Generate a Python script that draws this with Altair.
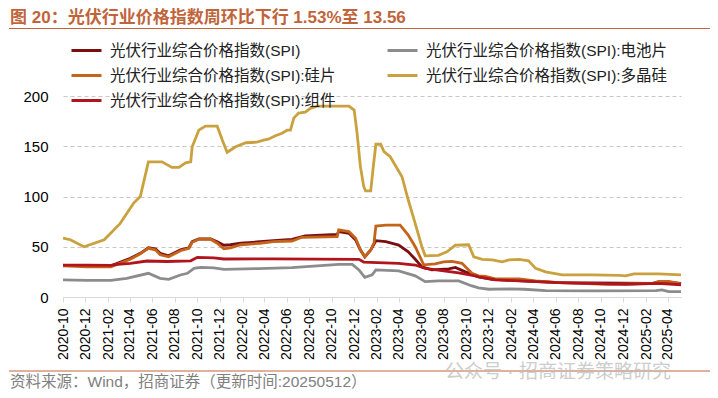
import altair as alt
import pandas as pd

# ---- series names (legend order) ----
series_names = [
    "光伏行业综合价格指数(SPI)",
    "光伏行业综合价格指数(SPI):电池片",
    "光伏行业综合价格指数(SPI):硅片",
    "光伏行业综合价格指数(SPI):多晶硅",
    "光伏行业综合价格指数(SPI):组件",
]
series_colors = ["#7A0F12", "#8C8C8C", "#C4641B", "#C9A23F", "#B0141C"]

# ---- SPI ----
spi_dates = ["2020-10-01", "2020-12-06", "2021-02-08", "2021-04-02", "2021-04-29", "2021-05-21",
             "2021-06-09", "2021-06-22", "2021-07-15", "2021-08-16", "2021-09-08", "2021-09-17",
             "2021-10-05", "2021-11-06", "2021-11-24", "2021-12-12", "2021-12-30", "2022-01-27",
             "2022-03-20", "2022-04-26", "2022-06-15", "2022-07-21", "2022-10-16", "2022-10-20",
             "2022-11-17", "2022-12-05", "2022-12-18", "2022-12-30", "2023-01-15", "2023-01-29",
             "2023-02-25", "2023-04-01", "2023-04-27", "2023-05-16", "2023-06-03", "2023-06-30",
             "2023-08-15", "2023-09-02", "2023-09-29", "2023-11-04", "2023-12-11", "2024-06-09",
             "2025-02-19", "2025-03-07", "2025-04-04", "2025-05-07"]
spi_vals = [31.5, 31, 31, 38.5, 43.5, 49,
            48, 43.5, 41, 47, 49, 55,
            57.7, 57.7, 55, 51.5, 52, 53.5,
            55, 56, 57.4, 60.7, 62.4, 65,
            63.4, 56.7, 46.8, 40, 46.8, 56,
            55, 51.7, 45, 37.5, 30, 27,
            28, 29.5, 25, 20, 17.6, 14.3,
            13.6, 14.8, 14.8, 13.56]

# ---- 电池片 ----
cell_dates = ["2020-10-01", "2020-12-06", "2021-02-08", "2021-03-23", "2021-05-21", "2021-06-22",
              "2021-07-15", "2021-08-16", "2021-09-04", "2021-09-22", "2021-10-10", "2021-11-15",
              "2021-12-12", "2022-03-16", "2022-06-15", "2022-10-20", "2022-11-26", "2022-12-14",
              "2022-12-30", "2023-01-19", "2023-01-29", "2023-04-01", "2023-05-16", "2023-06-12",
              "2023-07-18", "2023-09-11", "2023-10-17", "2023-11-04", "2023-12-02", "2024-01-26",
              "2024-03-07", "2024-05-04", "2024-09-08", "2025-02-28", "2025-03-16", "2025-04-04",
              "2025-05-07"]
cell_vals = [17, 16.5, 16.5, 18.6, 23.6, 18.6,
             17.6, 21.9, 23.6, 28.5, 29.5, 29,
             27.5, 28.3, 29.2, 32.5, 32.5, 27,
             19.6, 22, 27, 26, 21, 15.3,
             16, 16, 11, 9, 7.7, 8,
             7.7, 6.3, 6, 6.3, 7, 5.3,
             5.3]

# ---- 硅片 ----
wafer_dates = ["2020-10-01", "2020-12-06", "2021-02-08", "2021-04-02", "2021-04-29", "2021-05-21",
               "2021-06-09", "2021-06-22", "2021-07-15", "2021-08-16", "2021-09-08", "2021-09-17",
               "2021-10-05", "2021-11-06", "2021-11-24", "2021-12-12", "2021-12-30", "2022-01-27",
               "2022-03-20", "2022-04-26", "2022-06-15", "2022-07-12", "2022-10-16", "2022-10-20",
               "2022-11-17", "2022-12-05", "2022-12-18", "2022-12-30", "2023-01-15", "2023-01-24",
               "2023-01-29", "2023-02-25", "2023-04-05", "2023-04-27", "2023-05-16", "2023-06-08",
               "2023-07-09", "2023-08-01", "2023-08-24", "2023-09-20", "2023-10-17", "2023-11-04",
               "2023-11-23", "2023-12-20", "2024-02-22", "2024-04-07", "2024-06-09", "2024-10-23",
               "2025-02-19", "2025-03-07", "2025-04-04", "2025-05-07"]
wafer_vals = [31, 30, 30, 37.5, 43, 48.5,
              47, 42, 40, 46, 48.5, 54.5,
              57.5, 57.5, 53.5, 48, 49, 52,
              53.5, 55, 55.7, 59.4, 60, 66.7,
              65, 58.4, 46.8, 40, 46.8, 54,
              70.6, 71.6, 71.6, 61.7, 50, 32,
              33, 35, 35.5, 33.5, 23.6, 21,
              20.5, 18, 18, 16, 14.3, 12.6,
              13.6, 15.6, 15.5, 13]

# ---- 多晶硅 ----
poly_dates = ["2020-10-01", "2020-10-21", "2020-11-27", "2021-01-21", "2021-03-05", "2021-04-11",
              "2021-04-29", "2021-05-21", "2021-06-27", "2021-07-24", "2021-08-12", "2021-08-30",
              "2021-09-13", "2021-09-17", "2021-10-05", "2021-10-23", "2021-11-24", "2021-12-08",
              "2021-12-21", "2022-01-13", "2022-02-10", "2022-03-11", "2022-03-30", "2022-04-12",
              "2022-05-01", "2022-05-19", "2022-06-02", "2022-06-11", "2022-06-20", "2022-07-03",
              "2022-07-21", "2022-08-04", "2022-08-23", "2022-11-17", "2022-12-01", "2022-12-09",
              "2022-12-18", "2022-12-27", "2023-01-01", "2023-01-15", "2023-01-22", "2023-01-29",
              "2023-02-11", "2023-02-20", "2023-03-09", "2023-04-10", "2023-04-27", "2023-05-16",
              "2023-06-03", "2023-06-12", "2023-07-18", "2023-08-10", "2023-09-02", "2023-10-08",
              "2023-10-22", "2023-11-14", "2023-12-11", "2024-01-07", "2024-01-26", "2024-02-22",
              "2024-03-19", "2024-04-07", "2024-05-04", "2024-06-18", "2024-09-08", "2024-11-20",
              "2024-12-08", "2024-12-30", "2025-03-07", "2025-05-07"]
poly_vals = [58.5, 57, 50, 57, 73, 93.5,
             100, 134.5, 134.5, 129, 129, 133.5,
             134.5, 149.5, 166, 170, 170, 156,
             144, 149.5, 153.5, 154, 156, 157,
             160.5, 163, 166, 166, 178, 183,
             184, 187.7, 190, 190, 186, 163,
             129.7, 110, 105.5, 105.5, 129.7, 152,
             152, 144.6, 139.6, 119.7, 96.5, 73,
             50, 41, 41.5, 45, 51.7, 52,
             40, 37.5, 37, 35, 37, 37.5,
             36, 28.5, 25, 22, 22, 21.5,
             21, 23, 23, 22]

# ---- 组件 ----
module_dates = ["2020-10-01", "2020-12-06", "2021-02-08", "2021-02-26", "2021-04-02", "2021-05-17",
                "2021-07-10", "2021-09-13", "2021-10-01", "2021-11-15", "2021-12-12", "2022-04-26",
                "2022-12-14", "2022-12-27", "2023-04-01", "2023-05-16", "2023-06-12", "2023-09-11",
                "2023-10-26", "2023-11-04", "2023-12-20", "2024-06-09", "2024-12-08", "2025-03-07",
                "2025-05-07"]
module_vals = [31.8, 31.8, 31.5, 32.5, 33.5, 35.8,
               35.3, 36, 39.5, 39, 37.8, 38,
               37.5, 34.8, 33.5, 31.8, 28.5, 24,
               21, 20, 17, 14.3, 12.6, 13.6,
               12.2]

# ---- axis ticks ----
tick_months = [(2020, 10), (2020, 12), (2021, 2), (2021, 4), (2021, 6), (2021, 8), (2021, 10),
               (2021, 12), (2022, 2), (2022, 4), (2022, 6), (2022, 8), (2022, 10), (2022, 12),
               (2023, 2), (2023, 4), (2023, 6), (2023, 8), (2023, 10), (2023, 12), (2024, 2),
               (2024, 4), (2024, 6), (2024, 8), (2024, 10), (2024, 12), (2025, 2), (2025, 4)]
y_ticks = [0, 50, 100, 150, 200]

title_text = "图 20：光伏行业价格指数周环比下行 1.53%至 13.56"
source_text = "资料来源：Wind，招商证券（更新时间:20250512）"
watermark_text = "公众号 · 招商证券策略研究"

# ---- build table ----
frames = []
for name, ds, vs in zip(series_names,
                        [spi_dates, cell_dates, wafer_dates, poly_dates, module_dates],
                        [spi_vals, cell_vals, wafer_vals, poly_vals, module_vals]):
    frames.append(pd.DataFrame({"date": ds, "value": vs, "series": name}))
df = pd.concat(frames, ignore_index=True)

FONT = "Liberation Sans, Noto Sans CJK SC"
TITLE_COLOR = "#C0643A"

x_vals = [alt.DateTime(year=y, month=m, date=1, utc=True) for y, m in tick_months]

lines = alt.Chart(df).mark_line(strokeWidth=2.8).encode(
    x=alt.X("date:T",
            scale=alt.Scale(type="utc",
                            domain=[alt.DateTime(year=2020, month=10, date=1, utc=True),
                                    alt.DateTime(year=2025, month=5, date=7, utc=True)]),
            axis=alt.Axis(values=x_vals, format="%Y-%m", labelAngle=-90, title=None,
                          grid=False, domainColor="#D9D9D9", tickColor="#D9D9D9",
                          tickSize=5, labelPadding=6, labelFont=FONT, labelFontSize=14,
                          labelColor="#000000", labelFlush=False, labelOverlap=False)),
    y=alt.Y("value:Q",
            scale=alt.Scale(domain=[0, 200], nice=False, zero=True),
            axis=alt.Axis(values=y_ticks, title=None, domain=False, ticks=False,
                          gridColor="#C8C8C8", gridDash=[4, 3], gridWidth=1,
                          labelPadding=15, labelFont=FONT, labelFontSize=15,
                          labelColor="#000000")),
    color=alt.Color("series:N",
                    scale=alt.Scale(domain=series_names, range=series_colors),
                    sort=series_names,
                    legend=alt.Legend(orient="none", legendX=7, legendY=-62, columns=2,
                                      direction="horizontal",
                                      title=None, symbolType="stroke", symbolSize=900,
                                      symbolStrokeWidth=3, labelFont=FONT, labelFontSize=15.5,
                                      labelColor="#222222", labelLimit=400, labelOffset=7,
                                      columnPadding=45, rowPadding=-9, padding=0)),
    detail="series:N",
)

title_layer = alt.Chart(pd.DataFrame({"t": [title_text]})).mark_text(
    align="left", baseline="middle", font=FONT, fontSize=17, fontWeight="bold",
    color=TITLE_COLOR
).encode(text="t:N", x=alt.value(-53), y=alt.value(-78))

title_rule = alt.Chart(pd.DataFrame({"a": [0]})).mark_rule(
    color=TITLE_COLOR, strokeWidth=1
).encode(x=alt.value(-54), x2=alt.value(652), y=alt.value(-67.5))

foot_rule = alt.Chart(pd.DataFrame({"a": [0]})).mark_rule(
    color=TITLE_COLOR, strokeWidth=1
).encode(x=alt.value(-54), x2=alt.value(652), y=alt.value(275))

source_layer = alt.Chart(pd.DataFrame({"t": [source_text]})).mark_text(
    align="left", baseline="middle", font=FONT, fontSize=15.5, color="#808080"
).encode(text="t:N", x=alt.value(-53), y=alt.value(285.8))

wm_layer = alt.Chart(pd.DataFrame({"t": [watermark_text]})).mark_text(
    align="left", baseline="middle", font=FONT, fontSize=19, color="#BDBDBD", opacity=0.75
).encode(text="t:N", x=alt.value(382), y=alt.value(276))

chart = alt.layer(lines, title_rule, foot_rule, title_layer, source_layer, wm_layer).properties(
    width=618, height=201,
    autosize=alt.AutoSizeParams(type="none"),
    padding={"left": 55, "top": 88, "right": 29, "bottom": 93},
    background="#FFFFFF",
).configure_view(stroke=None)

chart.save("out.html", embed_options={"renderer": "svg", "actions": False})
